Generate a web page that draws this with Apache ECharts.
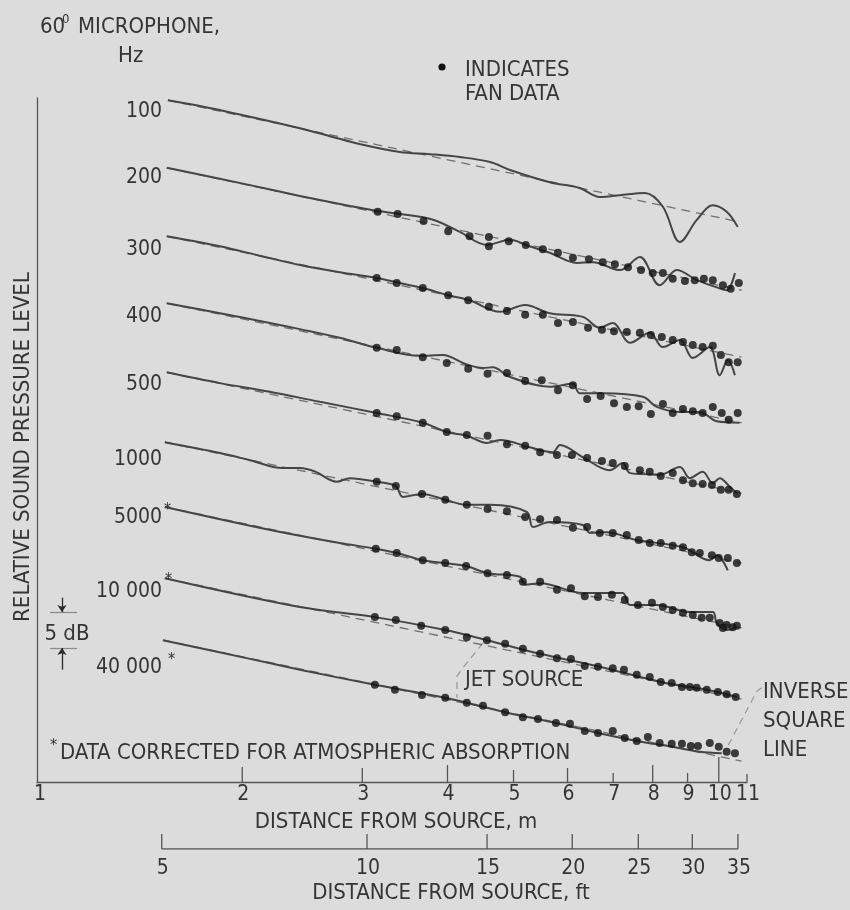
<!DOCTYPE html>
<html>
<head>
<meta charset="utf-8">
<script src="https://cdn.jsdelivr.net/npm/echarts@6/dist/echarts.min.js"></script>
<style>
html,body{margin:0;padding:0;background:#dcdcdc;}
#chart{width:850px;height:910px;}
</style>
</head>
<body>
<div id="chart"></div>
<script>
// ---------------- DATA (distance r in metres, relative level in dB) ----------------
const mTicks = [1, 2, 3, 4, 5, 6, 7, 8, 9, 10, 11];
const ftTicks = [5, 10, 15, 20, 25, 30, 35];
const FT_PER_M = 3.28084;

const freqLabels = ['100', '200', '300', '400', '500', '1000', '5000', '10 000', '40 000'];

// inverse-square reference lines (dashed)
const inv100 = [[1.556, -0.3], [10.7, -17.2]];
const inv200 = [[1.55, -9.7], [10.8, -26.7]];
const inv300 = [[1.55, -19.2], [10.8, -36.0]];
const inv400 = [[1.55, -28.5], [10.8, -45.1]];
const inv500 = [[1.55, -38.1], [10.8, -54.9]];
const inv1000 = [[1.54, -47.8], [10.8, -64.6]];
const inv5000 = [[1.54, -56.8], [10.8, -73.6]];
const inv10000 = [[1.54, -66.7], [10.8, -83.5]];
const inv40000 = [[1.53, -75.3], [10.8, -92.1]];

// jet source measurements (solid)
const jet100 = [[1.556,-0.3],[1.734,-1.1],[2.053,-2.6],[2.43,-4.2],[2.69,-5.3],[2.975,-6.4],[3.405,-7.5],[3.77,-7.8],[4.17,-8.2],[4.62,-8.9],[4.94,-10.0],[5.65,-11.7],[6.25,-12.5],[6.69,-13.75],[7.16,-13.5],[7.79,-13.2],[8.28,-15.1],[8.77,-20.0],[9.29,-16.9],[9.8,-14.9],[10.27,-15.8],[10.66,-17.9]];
const jet200 = [[1.55,-9.7],[2.053,-12.1],[2.43,-13.6],[2.877,-15.0],[3.11,-15.6],[3.405,-16.1],[3.81,-16.9],[4.17,-18.6],[4.57,-20.4],[4.94,-19.7],[5.28,-20.6],[5.65,-21.5],[6.19,-22.9],[6.54,-22.8],[7.16,-23.9],[7.66,-22.1],[8.19,-26.0],[8.68,-23.9],[9.29,-25.3],[9.93,-26.3],[10.27,-26.7],[10.56,-24.3]];
const jet300 = [[1.55,-19.2],[1.855,-20.6],[2.12,-21.9],[2.43,-23.2],[2.78,-24.2],[3.15,-25.0],[3.405,-25.7],[3.68,-26.4],[4.01,-27.4],[4.31,-28.1],[4.775,-29.7],[5.2,-28.75],[5.65,-29.9],[6.32,-30.4],[6.69,-31.9],[6.99,-31.25],[7.41,-34.0],[7.92,-32.6],[8.28,-34.6],[8.77,-33.6],[9.16,-36.1],[9.7,-34.6],[10.03,-38.5],[10.31,-36.4],[10.56,-38.5]];
const jet400 = [[1.55,-28.5],[1.855,-29.9],[2.195,-31.25],[2.43,-32.1],[2.78,-33.3],[3.15,-34.7],[3.64,-35.8],[3.94,-35.7],[4.24,-36.9],[4.51,-37.5],[4.66,-37.4],[4.94,-38.75],[5.65,-40.1],[6.11,-39.7],[6.25,-41.0],[6.76,-41.0],[7.74,-41.5],[8.11,-42.9],[8.77,-43.6],[9.38,-43.6],[9.93,-44.9],[10.73,-45.1]];
const jet500 = [[1.55,-38.1],[1.855,-39.6],[2.195,-40.8],[2.6,-42.2],[3.15,-43.75],[3.68,-45.1],[3.99,-46.4],[4.27,-46.9],[4.57,-47.9],[4.775,-47.5],[5.28,-48.5],[5.71,-49.2],[5.85,-48.2],[6.32,-49.9],[6.92,-51.7],[7.23,-50.7],[7.41,-52.1],[8.2,-52.3],[8.77,-51.25],[9.07,-52.8],[9.47,-51.9],[9.8,-53.5],[10.03,-52.8],[10.38,-54.0],[10.63,-54.9]];
const jet1000 = [[1.54,-47.8],[1.855,-49.3],[2.053,-50.3],[2.29,-51.4],[2.43,-51.4],[2.56,-51.9],[2.75,-53.3],[2.877,-52.8],[3.15,-53.3],[3.36,-53.9],[3.44,-55.4],[3.67,-55.0],[3.97,-55.8],[4.27,-56.5],[4.62,-56.5],[5.23,-57.5],[5.34,-59.6],[5.65,-58.9],[6.32,-59.3],[6.47,-60.4],[6.85,-60.3],[7.58,-61.4],[8.86,-62.4],[9.7,-64.2],[9.93,-63.5],[10.31,-65.6]];
const jet5000 = [[1.54,-56.8],[2.053,-59.4],[2.43,-60.8],[2.78,-61.8],[3.14,-62.6],[3.37,-63.2],[3.68,-64.2],[3.97,-64.6],[4.26,-65.0],[4.58,-66.0],[5.11,-66.5],[5.2,-67.6],[5.47,-67.4],[6.32,-68.75],[6.99,-68.75],[7.23,-68.75],[7.41,-70.4],[8.11,-70.4],[9.07,-71.4],[9.8,-71.4],[9.93,-72.9],[10.27,-73.9],[10.63,-73.5]];
const jet10000 = [[1.54,-66.7],[2.43,-70.7],[3.13,-72.1],[3.97,-73.9],[4.57,-75.3],[5.47,-77.2],[6.69,-79.0],[8.22,-81.1],[9.6,-82.2],[10.63,-83.2]];
const jet40000 = [[1.53,-75.3],[2.053,-77.9],[2.43,-79.4],[3.13,-81.5],[3.97,-83.3],[4.86,-85.3],[5.77,-86.8],[6.65,-88.2],[7.58,-89.3],[8.53,-90.1],[9.38,-90.8],[10.1,-91.0]];

// fan data (dots)
const fan200 = [[3.16,-15.8],[3.38,-16.1],[3.69,-17.1],[4.01,-18.5],[4.31,-19.2],[4.60,-19.3],[4.60,-20.6],[4.92,-19.9],[5.21,-20.4],[5.52,-21.0],[5.81,-21.5],[6.11,-22.2],[6.45,-22.4],[6.76,-22.8],[7.04,-23.1],[7.36,-23.5],[7.69,-23.9],[8.00,-24.3],[8.28,-24.3],[8.56,-25.1],[8.92,-25.4],[9.22,-25.3],[9.51,-25.1],[9.80,-25.3],[10.14,-26.0],[10.41,-26.5],[10.70,-25.7]];
const fan300 = [[3.15,-25.0],[3.37,-25.7],[3.68,-26.4],[4.01,-27.4],[4.29,-28.1],[4.60,-29.0],[4.89,-29.6],[5.20,-30.1],[5.52,-30.1],[5.81,-31.25],[6.11,-31.1],[6.43,-31.9],[6.74,-32.2],[7.02,-32.4],[7.33,-32.5],[7.66,-32.6],[7.95,-32.9],[8.25,-33.2],[8.56,-33.6],[8.86,-33.9],[9.16,-34.3],[9.47,-34.6],[9.80,-34.4],[10.07,-35.7],[10.34,-36.7],[10.66,-36.7]];
const fan400 = [[3.15,-34.7],[3.37,-35.0],[3.68,-36.0],[3.99,-36.8],[4.29,-37.6],[4.58,-38.3],[4.89,-38.2],[5.20,-39.3],[5.50,-39.2],[5.81,-40.6],[6.11,-39.9],[6.41,-41.8],[6.71,-41.4],[7.02,-42.4],[7.33,-42.9],[7.63,-42.8],[7.95,-43.9],[8.28,-42.5],[8.56,-43.75],[8.86,-43.2],[9.16,-43.5],[9.47,-43.75],[9.80,-42.9],[10.10,-43.75],[10.34,-44.7],[10.66,-43.75]];
const fan500 = [[3.15,-43.75],[3.37,-44.2],[3.68,-45.1],[3.99,-46.4],[4.27,-46.8],[4.58,-46.9],[4.89,-48.1],[5.20,-48.3],[5.47,-49.2],[5.79,-49.6],[6.09,-49.6],[6.41,-50.0],[6.74,-50.4],[6.99,-50.7],[7.28,-51.1],[7.66,-51.7],[7.92,-51.9],[8.22,-52.5],[8.56,-52.1],[8.86,-53.1],[9.16,-53.5],[9.47,-53.6],[9.77,-53.75],[10.07,-54.4],[10.34,-54.4],[10.63,-55.0]];
const fan1000 = [[3.15,-53.3],[3.36,-53.9],[3.67,-55.0],[3.97,-55.8],[4.27,-56.5],[4.58,-57.1],[4.89,-57.4],[5.20,-58.2],[5.47,-58.5],[5.79,-58.6],[6.11,-59.7],[6.41,-59.6],[6.69,-60.4],[6.99,-60.4],[7.33,-60.7],[7.63,-61.4],[7.92,-61.8],[8.22,-61.8],[8.56,-62.2],[8.86,-62.4],[9.13,-63.1],[9.38,-63.2],[9.77,-63.5],[10.0,-63.9],[10.31,-63.9],[10.63,-64.6]];
const fan5000 = [[3.14,-62.6],[3.37,-63.2],[3.68,-64.2],[3.97,-64.6],[4.26,-65.0],[4.58,-66.0],[4.89,-66.25],[5.16,-67.2],[5.47,-67.2],[5.79,-68.3],[6.07,-68.1],[6.36,-69.2],[6.65,-69.3],[6.97,-69.0],[7.28,-69.7],[7.61,-70.4],[7.98,-70.1],[8.28,-70.7],[8.56,-71.1],[8.86,-71.5],[9.16,-71.8],[9.44,-72.2],[9.70,-72.2],[10.03,-72.9],[10.14,-73.6],[10.27,-73.2],[10.48,-73.5],[10.63,-73.3]];
const fan10000 = [[3.13,-72.1],[3.36,-72.5],[3.66,-73.3],[3.97,-73.9],[4.27,-74.9],[4.57,-75.3],[4.86,-75.8],[5.16,-76.5],[5.47,-77.2],[5.79,-77.8],[6.07,-77.9],[6.36,-78.9],[6.65,-79.0],[6.99,-79.2],[7.26,-79.4],[7.58,-80.1],[7.92,-80.4],[8.22,-81.1],[8.53,-81.25],[8.83,-81.8],[9.07,-81.8],[9.28,-81.9],[9.60,-82.2],[9.97,-82.5],[10.27,-82.8],[10.59,-83.2]];
const fan40000 = [[3.13,-81.5],[3.35,-82.2],[3.67,-82.9],[3.97,-83.3],[4.27,-84.0],[4.51,-84.4],[4.86,-85.3],[5.16,-86.0],[5.43,-86.25],[5.77,-86.8],[6.05,-86.9],[6.36,-87.9],[6.65,-88.2],[6.99,-87.9],[7.28,-88.9],[7.58,-89.3],[7.87,-88.75],[8.19,-89.6],[8.53,-89.7],[8.83,-89.7],[9.10,-90.0],[9.32,-90.0],[9.70,-89.6],[10.0,-90.1],[10.27,-90.8],[10.56,-91.0]];

// annotations in data coordinates
const leaderJet = [[4.51,-75.7],[4.20,-79.3],[4.13,-80.3],[4.13,-83.3]];
const leaderInv = [[11.56,-81.9],[11.37,-82.4],[10.31,-90.0]];
const scaleBarDb = [-71.4, -76.4];   // 5 dB
const scaleBarR = [1.045, 1.088, 1.145];

// ---------------- STYLE ----------------
const BG = '#dcdcdc', TEXT = '#353535', AXIS = '#555555', SOLID = '#454545', DASH = '#707070', DOT = '#111111';
const FAM = '"Liberation Sans Narrow","DejaVu Sans Condensed","Liberation Sans",Arial,sans-serif';
const F = s => s + 'px ' + FAM;
const Y_MIN = -95, Y_MAX = 0;
const M_TICK_LEN = {1: 0, 2: 15, 3: 14, 4: 17, 5: 12, 6: 14, 7: 9, 8: 17, 9: 9, 10: 25, 11: 8};

const rows = [
  [inv100, jet100, null], [inv200, jet200, fan200], [inv300, jet300, fan300],
  [inv400, jet400, fan400], [inv500, jet500, fan500], [inv1000, jet1000, fan1000],
  [inv5000, jet5000, fan5000], [inv10000, jet10000, fan10000], [inv40000, jet40000, fan40000]
];

const series = [];
rows.forEach((r, i) => {
  series.push({type: 'line', name: 'inv' + freqLabels[i], data: r[0], symbol: 'none', silent: true, z: 2,
    lineStyle: {color: DASH, width: 1.3, type: [9, 6]}});
  series.push({type: 'line', name: 'jet' + freqLabels[i], data: r[1], symbol: 'none', smooth: 0.35, silent: true, z: 3,
    lineStyle: {color: SOLID, width: 2}});
  if (r[2]) series.push({type: 'scatter', name: 'fan' + freqLabels[i], data: r[2], symbol: 'circle', symbolSize: 8,
    silent: true, z: 4, itemStyle: {color: DOT}});
});

// metre axis ticks + labels
series.push({
  type: 'custom', xAxisIndex: 0, yAxisIndex: 0, silent: true, z: 5,
  data: mTicks.map(v => [v, Y_MIN]),
  renderItem: function (params, api) {
    const v = api.value(0);
    const p = api.coord([v, api.value(1)]);
    const len = M_TICK_LEN[v] !== undefined ? M_TICK_LEN[v] : 14;
    const kids = [];
    if (len > 0) kids.push({type: 'line', shape: {x1: p[0], y1: p[1], x2: p[0], y2: p[1] - len},
      style: {stroke: AXIS, lineWidth: 1.3}});
    kids.push({type: 'text', style: {text: String(v), x: p[0] + (v === 1 ? 3 : 1), y: p[1] + 13,
      align: 'center', verticalAlign: 'middle', textAlign: 'center', textVerticalAlign: 'middle', font: F(21), fill: TEXT}});
    return {type: 'group', children: kids};
  }
});

// feet axis baseline, ticks + labels
series.push({type: 'line', xAxisIndex: 1, yAxisIndex: 1, silent: true, symbol: 'none',
  data: [[ftTicks[0], 0], [ftTicks[ftTicks.length - 1], 0]], lineStyle: {color: AXIS, width: 1.3}});
series.push({
  type: 'custom', xAxisIndex: 1, yAxisIndex: 1, silent: true, z: 5,
  data: ftTicks.map(v => [v, 0]),
  renderItem: function (params, api) {
    const v = api.value(0);
    const p = api.coord([v, 0]);
    return {type: 'group', children: [
      {type: 'line', shape: {x1: p[0], y1: p[1], x2: p[0], y2: p[1] - 15}, style: {stroke: AXIS, lineWidth: 1.3}},
      {type: 'text', style: {text: String(v), x: p[0] + 1, y: p[1] + 20, align: 'center', verticalAlign: 'middle',
        textAlign: 'center', textVerticalAlign: 'middle', font: F(21), fill: TEXT}}
    ]};
  }
});

// leaders
series.push({type: 'lines', coordinateSystem: 'cartesian2d', polyline: true, silent: true, clip: false, z: 5,
  lineStyle: {color: '#555', width: 1.2, type: [7, 5]},
  data: [{coords: leaderJet}, {coords: leaderInv}]});
// 5 dB scale bar
series.push({type: 'lines', coordinateSystem: 'cartesian2d', silent: true, clip: false, z: 5,
  lineStyle: {color: '#3a3a3a', width: 1.2},
  data: [{coords: [[scaleBarR[0], scaleBarDb[0]], [scaleBarR[2], scaleBarDb[0]]]},
         {coords: [[scaleBarR[0], scaleBarDb[1]], [scaleBarR[2], scaleBarDb[1]]]}]});
series.push({type: 'lines', coordinateSystem: 'cartesian2d', silent: true, clip: false, z: 5,
  symbol: ['none', 'arrow'], symbolSize: 7,
  lineStyle: {color: '#2a2a2a', width: 1.3, opacity: 1},
  data: [{coords: [[scaleBarR[1], scaleBarDb[0] + 2], [scaleBarR[1], scaleBarDb[0]]]},
         {coords: [[scaleBarR[1], scaleBarDb[1] - 3], [scaleBarR[1], scaleBarDb[1]]]}]});

// ---------------- TEXT ----------------
function T(text, x, y, align, size, extra) {
  return Object.assign({type: 'text', x: x, y: y, silent: true, z: 10,
    style: {text: text, font: F(size || 22), fill: TEXT, align: align || 'left', textAlign: align || 'left',
      verticalAlign: 'middle', textVerticalAlign: 'middle'}}, extra || {});
}
const freqLabelY = [112, 178, 250, 317, 385, 460, 518, 592, 668];
const graphics = [
  T('60', 40, 27), T('0', 62, 20, 'left', 13), T('MICROPHONE,', 78, 27), T('Hz', 118, 56),
  {type: 'circle', shape: {cx: 442, cy: 67, r: 3.6}, style: {fill: DOT}, silent: true},
  T('INDICATES', 465, 70), T('FAN DATA', 465, 94),
  T('DISTANCE FROM SOURCE, m', 396, 822, 'center'),
  T('DISTANCE FROM SOURCE, ft', 451, 893, 'center'),
  T('5 dB', 67, 634, 'center'),
  T('*', 50, 746, 'left', 16), T('DATA CORRECTED FOR ATMOSPHERIC ABSORPTION', 60, 753),
  T('JET SOURCE', 465, 680),
  T('INVERSE', 763, 692), T('SQUARE', 763, 721), T('LINE', 763, 750),
  T('RELATIVE SOUND PRESSURE LEVEL', 23, 447, 'center', 22, {rotation: Math.PI / 2}),
  T('*', 164, 510, 'left', 16), T('*', 165, 580, 'left', 16), T('*', 168, 660, 'left', 16)
];
freqLabels.forEach((l, i) => graphics.push(T(l, 162, freqLabelY[i], 'right', 21)));

const chart = echarts.init(document.getElementById('chart'), null, {renderer: 'canvas'});
chart.setOption({
  backgroundColor: BG,
  animation: false,
  grid: [
    {left: 37, top: 98, width: 710, height: 684, outerBoundsMode: 'none', containLabel: false},
    {left: 37, top: 829, width: 710, height: 20, outerBoundsMode: 'none', containLabel: false}
  ],
  xAxis: [
    {type: 'log', logBase: 10, min: mTicks[0], max: mTicks[mTicks.length - 1], gridIndex: 0,
      axisLine: {show: true, onZero: false, lineStyle: {color: AXIS, width: 1.3}},
      axisTick: {show: false}, axisLabel: {show: false}, splitLine: {show: false}, minorTick: {show: false}},
    {type: 'log', logBase: 10, min: mTicks[0] * FT_PER_M, max: mTicks[mTicks.length - 1] * FT_PER_M, gridIndex: 1, show: false}
  ],
  yAxis: [
    {type: 'value', min: Y_MIN, max: Y_MAX, gridIndex: 0,
      axisLine: {show: true, onZero: false, lineStyle: {color: AXIS, width: 1.3}},
      axisTick: {show: false}, axisLabel: {show: false}, splitLine: {show: false}},
    {type: 'value', min: 0, max: 1, gridIndex: 1, show: false}
  ],
  graphic: {elements: graphics},
  series: series
});
</script>
</body>
</html>
